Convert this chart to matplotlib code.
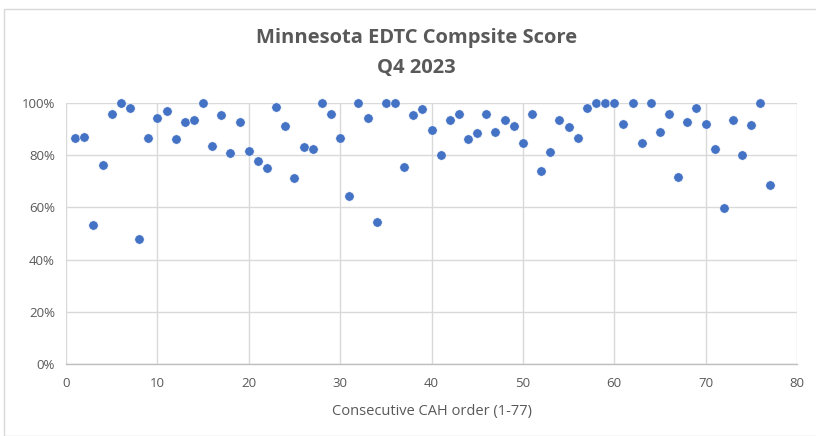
import matplotlib
matplotlib.use("Agg")
import matplotlib.pyplot as plt
from matplotlib.patches import Rectangle
from matplotlib.ticker import FuncFormatter, MultipleLocator

# Data
cah_order = list(range(1, 78))
composite = [
    0.866, 0.868, 0.534, 0.763, 0.957, 1.000, 0.979, 0.479, 0.866, 0.943,
    0.967, 0.861, 0.927, 0.934, 1.000, 0.834, 0.953, 0.806, 0.927, 0.815,
    0.777, 0.750, 0.985, 0.911, 0.711, 0.831, 0.823, 1.000, 0.957, 0.866,
    0.645, 1.000, 0.943, 0.544, 1.000, 1.000, 0.755, 0.954, 0.975, 0.896,
    0.800, 0.934, 0.956, 0.860, 0.883, 0.957, 0.889, 0.935, 0.911, 0.845,
    0.957, 0.739, 0.812, 0.934, 0.906, 0.866, 0.979, 1.000, 1.000, 1.000,
    0.917, 1.000, 0.845, 1.000, 0.888, 0.956, 0.717, 0.926, 0.979, 0.919,
    0.823, 0.599, 0.934, 0.801, 0.914, 1.000, 0.685,
]
title_lines = ["Minnesota EDTC Compsite Score", "Q4 2023"]
x_label = "Consecutive CAH order (1-77)"

TEXT = "#595959"
GRID = "#d9d9d9"
BLUE = "#4472C4"

plt.rcParams["font.family"] = ["Open Sans", "DejaVu Sans"]

fig = plt.figure(figsize=(8.16, 4.36), dpi=100)
fig.patch.set_facecolor("white")

# chart area border
fig.add_artist(Rectangle((4 / 816, 0), 1, 1 - 9 / 436, transform=fig.transFigure,
                         fill=False, edgecolor="#d9d9d9", linewidth=1.0))

ax = fig.add_axes([66 / 816, 71.7 / 436, 731 / 816, 261.6 / 436])
ax.scatter(cah_order, composite, s=46, color=BLUE, edgecolor="white",
           linewidth=0.4, zorder=3, clip_on=False)

ax.set_xlim(0, 80)
ax.set_ylim(0, 1.0)
ax.xaxis.set_major_locator(MultipleLocator(10))
ax.yaxis.set_major_locator(MultipleLocator(0.2))
ax.yaxis.set_major_formatter(FuncFormatter(lambda v, _: f"{v * 100:.0f}%"))
ax.grid(True, color=GRID, linewidth=1.0, zorder=0)
ax.set_axisbelow(True)

for side in ["top", "right", "left"]:
    ax.spines[side].set_visible(False)
ax.spines["bottom"].set_color("#bfbfbf")
ax.spines["bottom"].set_linewidth(1.0)

ax.tick_params(axis="both", length=0, labelsize=9.5, labelcolor=TEXT)
ax.tick_params(axis="x", pad=9)
ax.tick_params(axis="y", pad=8)

ax.set_xlabel(x_label, fontsize=10.5, color=TEXT, labelpad=10)

fig.text(0.51, 1 - 38 / 436, title_lines[0], ha="center", va="center",
         fontsize=14.5, color=TEXT, fontweight="bold")
fig.text(0.51, 1 - 68 / 436, title_lines[1], ha="center", va="center",
         fontsize=14.5, color=TEXT, fontweight="bold")

fig.savefig("out.png", dpi=100, facecolor="white")
plt.close(fig)
